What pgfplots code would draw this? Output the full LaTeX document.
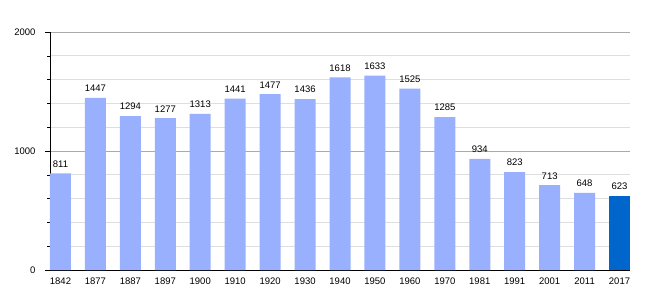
\documentclass[border=0pt]{standalone}
\usepackage{pgfplots}
\pgfplotsset{compat=1.18}
\usepackage{fontspec}
\setmainfont{Liberation Sans}
\definecolor{barlight}{RGB}{153,176,255}
\definecolor{bardark}{RGB}{0,102,204}
\definecolor{gridmaj}{RGB}{170,170,170}
\definecolor{gridmin}{RGB}{222,222,222}
\begin{document}
\begin{tikzpicture}[x=1pt,y=1pt]
\path[use as bounding box] (-50,-30) rectangle (610,270);
\begin{axis}[
  at={(0,0)}, anchor=south west,
  scale only axis, width=580pt, height=238pt,
  xmin=-0.3, xmax=16.3, ymin=0, ymax=2000,
  axis x line*=bottom, axis y line*=left,
  axis line style={black, line width=0.8pt},
  every outer x axis line/.append style={-}, every outer y axis line/.append style={-},
  xtick={0,...,16},
  xticklabels={1842,1877,1887,1897,1900,1910,1920,1930,1940,1950,1960,1970,1981,1991,2001,2011,2017},
  x tick style={draw=none},
  ytick={0,1000,2000},
  minor ytick={200,400,600,800,1200,1400,1600,1800},
  ymajorgrids, yminorgrids,
  major grid style={gridmaj, line width=0.8pt},
  minor grid style={gridmin, line width=0.8pt},
  y tick style={black, line width=0.6pt},
  major tick length=5pt, minor tick length=2.5pt,
  tick align=outside,
  ticklabel style={font=\fontsize{9.5}{10}\selectfont},
  yticklabel style={xshift=-6pt},
  xticklabel style={yshift=1pt},
  /pgf/number format/assume math mode=true,
  /pgf/number format/1000 sep={},
  clip=false,
]
\addplot[ybar, bar width=21pt, fill=barlight, draw=none,
  nodes near coords, every node near coord/.append style={font=\fontsize{9.5}{10}\selectfont, black, yshift=2.5pt},
  /pgf/number format/1000 sep={}]
  coordinates {(0,811)(1,1447)(2,1294)(3,1277)(4,1313)(5,1441)(6,1477)(7,1436)(8,1618)(9,1633)(10,1525)(11,1285)(12,934)(13,823)(14,713)(15,648)};
\addplot[ybar, bar width=21pt, fill=bardark, draw=none,
  nodes near coords, every node near coord/.append style={font=\fontsize{9.5}{10}\selectfont, black, yshift=2.5pt},
  /pgf/number format/1000 sep={}]
  coordinates {(16,623)};
\end{axis}
\end{tikzpicture}
\end{document}
